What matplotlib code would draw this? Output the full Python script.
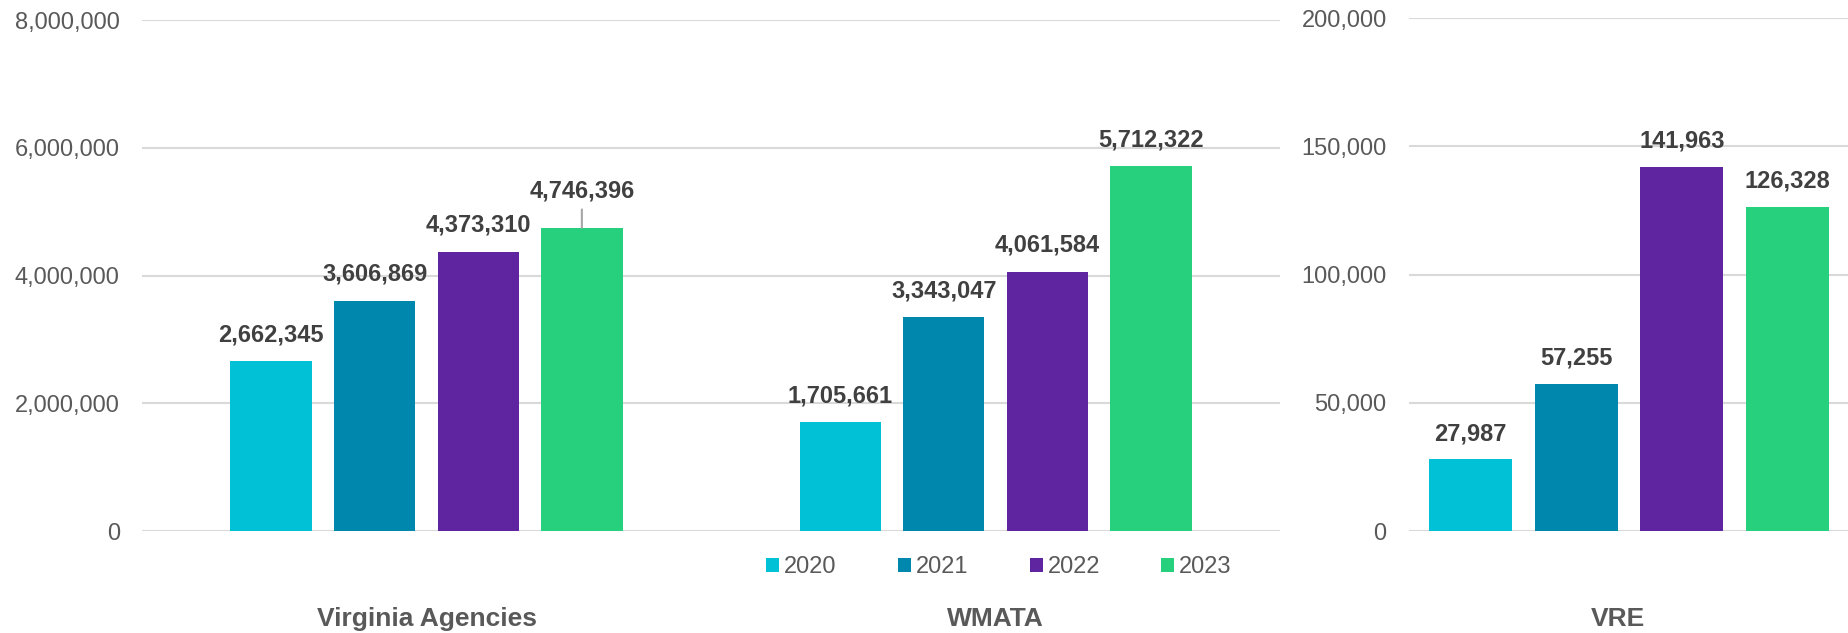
import matplotlib.pyplot as plt
from matplotlib.ticker import FuncFormatter
import numpy as np

plt.rcParams['font.family'] = ['Liberation Sans', 'DejaVu Sans']

# Dados
anos = ['2020', '2021', '2022', '2023']
cores = ['#00C1D5', '#0087AD', '#5F249F', '#26D07C']
grupos_esq = ['Virginia Agencies', 'WMATA']
virginia = [2662345, 3606869, 4373310, 4746396]
wmata = [1705661, 3343047, 4061584, 5712322]
grupo_dir = ['VRE']
vre = [27987, 57255, 141963, 126328]

cor_texto = '#595959'
cor_rotulo = '#404040'
cor_grade = '#D9D9D9'

fig = plt.figure(figsize=(18.49, 6.33), dpi=100)
ax1 = fig.add_axes([0.0768, 0.1611, 0.6155, 0.8073])
ax2 = fig.add_axes([0.7620, 0.1611, 0.2380, 0.8104])

fmt = FuncFormatter(lambda v, p: f'{int(v):,}')


def estilo(ax, ymax, passo):
    ax.set_ylim(0, ymax)
    ax.set_yticks(np.arange(0, ymax + 1, passo))
    ax.yaxis.set_major_formatter(fmt)
    ax.tick_params(axis='y', length=0, labelsize=17, labelcolor=cor_texto, pad=16)
    ax.tick_params(axis='x', length=0, labelbottom=False)
    ax.grid(axis='y', color=cor_grade, linewidth=1.5)
    ax.set_axisbelow(True)
    for s in ax.spines.values():
        s.set_visible(False)


# Painel esquerdo
passo1 = 0.182
larg1 = 0.143
x = np.arange(len(grupos_esq))
for i, ano in enumerate(anos):
    vals = [virginia[i], wmata[i]]
    pos = x + (i - 1.5) * passo1
    ax1.bar(pos, vals, width=larg1, color=cores[i], label=ano, zorder=3)
    for j, (p, v) in enumerate(zip(pos, vals)):
        if j == 0 and i == 3:
            # rotulo deslocado com linha guia
            ax1.annotate(f'{v:,}', xy=(p, v), xytext=(0, 26.5), textcoords='offset points',
                         ha='center', va='center', fontsize=17, fontweight='bold', color=cor_rotulo,
                         arrowprops=dict(arrowstyle='-', color='#A6A6A6', lw=1.5,
                                         shrinkA=3, shrinkB=0))
        else:
            ax1.annotate(f'{v:,}', xy=(p, v), xytext=(0, 19), textcoords='offset points',
                         ha='center', va='center', fontsize=17, fontweight='bold', color=cor_rotulo)
ax1.set_xlim(-0.5, 1.5)
estilo(ax1, 8000000, 2000000)
for xi, nome in zip(x, grupos_esq):
    ax1.text(xi, -0.172, nome, transform=ax1.get_xaxis_transform(), ha='center', va='center',
             fontsize=19, fontweight='bold', color=cor_texto)

# Painel direito
passo2 = 0.24
larg2 = 0.189
for i, ano in enumerate(anos):
    p = (i - 1.5) * passo2
    ax2.bar(p, vre[i], width=larg2, color=cores[i], zorder=3)
    ax2.annotate(f'{vre[i]:,}', xy=(p, vre[i]), xytext=(0, 18.5), textcoords='offset points',
                 ha='center', va='center', fontsize=17, fontweight='bold', color=cor_rotulo)
ax2.set_xlim(-0.5, 0.5)
estilo(ax2, 200000, 50000)
ax2.text(-0.024, -0.172, grupo_dir[0], transform=ax2.get_xaxis_transform(), ha='center', va='center',
         fontsize=19, fontweight='bold', color=cor_texto)

# Legenda
leg = fig.legend(loc='center', bbox_to_anchor=(999 / 1849, 1 - 567 / 633), ncol=4, frameon=False,
                 fontsize=17, handlelength=0.55, handleheight=0.55, handletextpad=0.2,
                 columnspacing=2.6, labelcolor=cor_texto)

fig.savefig('out.png', dpi=100)
